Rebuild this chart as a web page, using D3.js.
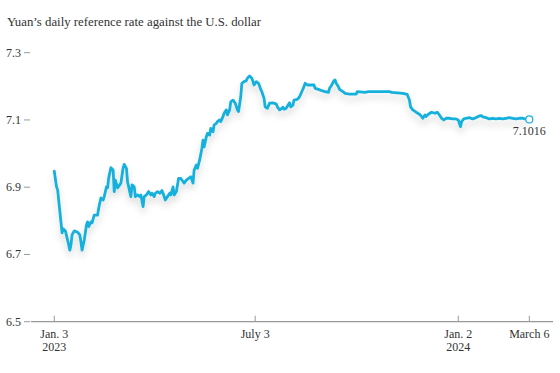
<!DOCTYPE html>
<html>
<head>
<meta charset="utf-8">
<script src="https://cdn.jsdelivr.net/npm/d3@7"></script>
<style>
  html, body { margin: 0; padding: 0; background: #fff; }
  svg { display: block; }
  text { font-family: "Liberation Serif", "DejaVu Serif", serif; fill: #333; }
</style>
</head>
<body>
<svg id="chart" width="560" height="373"></svg>
<script>
const title = "Yuan\u2019s daily reference rate against the U.S. dollar";

const dates = [
"2023-01-03","2023-01-05","2023-01-06","2023-01-10","2023-01-11","2023-01-13","2023-01-16","2023-01-17","2023-01-18","2023-01-19",
"2023-01-21","2023-01-24","2023-01-26","2023-01-27","2023-01-28","2023-01-30","2023-02-01","2023-02-02","2023-02-03","2023-02-05",
"2023-02-06","2023-02-08","2023-02-11","2023-02-12","2023-02-14","2023-02-16","2023-02-17","2023-02-19","2023-02-20","2023-02-21",
"2023-02-23","2023-02-25","2023-02-26","2023-02-27","2023-03-01","2023-03-04","2023-03-06","2023-03-07","2023-03-09","2023-03-10",
"2023-03-13","2023-03-14","2023-03-16","2023-03-17","2023-03-19","2023-03-21","2023-03-22","2023-03-24","2023-03-25","2023-03-27",
"2023-03-29","2023-03-31","2023-04-01","2023-04-03","2023-04-04","2023-04-06","2023-04-08","2023-04-10","2023-04-11","2023-04-13",
"2023-04-15","2023-04-17","2023-04-18","2023-04-20","2023-04-21","2023-04-23","2023-04-25","2023-04-27","2023-04-30","2023-05-02",
"2023-05-04","2023-05-06","2023-05-08","2023-05-09","2023-05-11","2023-05-12","2023-05-14","2023-05-16","2023-05-17","2023-05-18",
"2023-05-20","2023-05-21","2023-05-23","2023-05-24","2023-05-26","2023-05-27","2023-05-29","2023-05-30","2023-06-01","2023-06-02",
"2023-06-04","2023-06-05","2023-06-07","2023-06-08","2023-06-10","2023-06-11","2023-06-13","2023-06-15","2023-06-17","2023-06-18",
"2023-06-20","2023-06-21","2023-06-23","2023-06-25","2023-06-26","2023-06-28","2023-06-30","2023-07-01","2023-07-02","2023-07-04",
"2023-07-06","2023-07-08","2023-07-09","2023-07-11","2023-07-12","2023-07-14","2023-07-16","2023-07-19","2023-07-22","2023-07-23",
"2023-07-25","2023-07-26","2023-07-28","2023-07-29","2023-07-31","2023-08-01","2023-08-03","2023-08-04","2023-08-06","2023-08-07",
"2023-08-10","2023-08-12","2023-08-14","2023-08-16","2023-08-17","2023-08-19","2023-08-22","2023-08-25","2023-08-26","2023-08-29",
"2023-09-01","2023-09-04","2023-09-07","2023-09-08","2023-09-10","2023-09-12","2023-09-13","2023-09-14","2023-09-16","2023-09-17",
"2023-09-20","2023-09-22","2023-09-26","2023-10-02","2023-10-03","2023-10-10","2023-10-13","2023-10-26","2023-11-01","2023-11-03",
"2023-11-13","2023-11-17","2023-11-19","2023-11-20","2023-11-22","2023-11-25","2023-11-28","2023-11-30","2023-12-01","2023-12-03",
"2023-12-04","2023-12-06","2023-12-09","2023-12-12","2023-12-14","2023-12-16","2023-12-18","2023-12-20","2023-12-22","2023-12-25",
"2023-12-28","2023-12-31","2024-01-02","2024-01-03","2024-01-04","2024-01-05","2024-01-07","2024-01-09","2024-01-12","2024-01-15",
"2024-01-18","2024-01-21","2024-01-23","2024-01-24","2024-01-27","2024-01-30","2024-02-02","2024-02-05","2024-02-08","2024-02-11",
"2024-02-14","2024-02-17","2024-02-20","2024-02-23","2024-02-26","2024-02-29","2024-03-02","2024-03-06"
];

const rates = [
6.9475,6.901,6.892,6.764,6.776,6.770,6.728,6.713,6.728,6.758,
6.770,6.766,6.758,6.737,6.713,6.743,6.788,6.797,6.783,6.797,
6.794,6.817,6.817,6.838,6.868,6.862,6.872,6.901,6.898,6.927,
6.958,6.951,6.887,6.921,6.898,6.912,6.957,6.968,6.956,6.916,
6.872,6.907,6.901,6.872,6.877,6.872,6.877,6.842,6.872,6.877,
6.887,6.877,6.882,6.872,6.882,6.887,6.882,6.890,6.882,6.862,
6.872,6.882,6.877,6.901,6.877,6.887,6.926,6.926,6.912,6.921,
6.926,6.931,6.912,6.951,6.966,6.956,6.981,7.016,7.040,7.020,
7.050,7.060,7.055,7.075,7.065,7.085,7.090,7.095,7.100,7.095,
7.110,7.120,7.130,7.115,7.130,7.154,7.159,7.150,7.130,7.125,
7.169,7.209,7.214,7.217,7.224,7.231,7.224,7.214,7.204,7.214,
7.209,7.191,7.184,7.164,7.139,7.135,7.150,7.151,7.147,7.139,
7.130,7.132,7.138,7.132,7.135,7.141,7.151,7.139,7.144,7.159,
7.161,7.169,7.184,7.199,7.209,7.204,7.204,7.204,7.194,7.191,
7.187,7.184,7.182,7.194,7.204,7.217,7.219,7.209,7.199,7.191,
7.184,7.179,7.177,7.177,7.184,7.182,7.184,7.184,7.184,7.182,
7.179,7.176,7.159,7.139,7.130,7.123,7.117,7.110,7.105,7.115,
7.110,7.117,7.123,7.120,7.123,7.115,7.105,7.100,7.105,7.105,
7.103,7.103,7.100,7.090,7.080,7.095,7.103,7.105,7.107,7.103,
7.107,7.112,7.113,7.109,7.107,7.103,7.105,7.103,7.105,7.103,
7.105,7.107,7.105,7.103,7.105,7.105,7.103,7.1016
];

const yTicks = [6.5, 6.7, 6.9, 7.1, 7.3];
const xTickDates = ["2023-01-03", "2023-07-03", "2024-01-02", "2024-03-06"];
const xTickLabels = [["Jan. 3", "2023"], ["July 3"], ["Jan. 2", "2024"], ["March 6"]];
const lastLabel = "7.1016";

const parse = d3.timeParse("%Y-%m-%d");
const data = dates.map((d, i) => ({ date: parse(d), value: rates[i] }));

const svg = d3.select("#chart");
const lineColor = "#17b0dd";

const x = d3.scaleTime()
  .domain([parse("2023-01-03"), parse("2024-03-06")])
  .range([54.3, 529.3]);
const y = d3.scaleLinear()
  .domain([6.5, 7.3])
  .range([321.7, 52.7]);

// drop-shadow filter
const defs = svg.append("defs");
const f = defs.append("filter").attr("id", "shadow")
  .attr("x", "-10%").attr("y", "-20%").attr("width", "120%").attr("height", "170%");
f.append("feDropShadow").attr("dx", 0).attr("dy", 5).attr("stdDeviation", 3.5)
  .attr("flood-color", "#000").attr("flood-opacity", 0.16);

// title
svg.append("text").attr("x", 7).attr("y", 26)
  .style("font-size", "12.8px").text(title);

// y axis ticks
const yg = svg.append("g");
yTicks.forEach(v => {
  yg.append("text").attr("x", 21).attr("y", y(v) + 4)
    .attr("text-anchor", "end").style("font-size", "12px").text(d3.format(".1f")(v));
  yg.append("line").attr("x1", 24).attr("x2", 30).attr("y1", y(v)).attr("y2", y(v))
    .attr("stroke", "#999").attr("stroke-width", 1);
});

// x axis baseline
svg.append("line").attr("x1", 31).attr("x2", 553)
  .attr("y1", y(6.5)).attr("y2", y(6.5))
  .attr("stroke", "#999").attr("stroke-width", 1.2);

const xg = svg.append("g");
xTickDates.forEach((d, i) => {
  const px = x(parse(d));
  xg.append("line").attr("x1", px).attr("x2", px)
    .attr("y1", y(6.5) - 6).attr("y2", y(6.5))
    .attr("stroke", "#999").attr("stroke-width", 1);
  xTickLabels[i].forEach((lab, j) => {
    xg.append("text").attr("x", px).attr("y", 338 + j * 13)
      .attr("text-anchor", "middle").style("font-size", "12px").text(lab);
  });
});

// line
const line = d3.line().x(d => x(d.date)).y(d => y(d.value)).curve(d3.curveLinear);
svg.append("path").datum(data)
  .attr("d", line)
  .attr("fill", "none")
  .attr("stroke", lineColor)
  .attr("stroke-width", 2.8)
  .attr("stroke-linejoin", "round")
  .attr("stroke-linecap", "round")
  .attr("filter", "url(#shadow)");

// end point
const last = data[data.length - 1];
svg.append("circle").attr("cx", x(last.date)).attr("cy", y(last.value))
  .attr("r", 3.5).attr("fill", "#fff").attr("stroke", lineColor).attr("stroke-width", 1.2);
svg.append("text").attr("x", x(last.date)).attr("y", y(last.value) + 16)
  .attr("text-anchor", "middle").style("font-size", "12px").text(lastLabel);
</script>
</body>
</html>
